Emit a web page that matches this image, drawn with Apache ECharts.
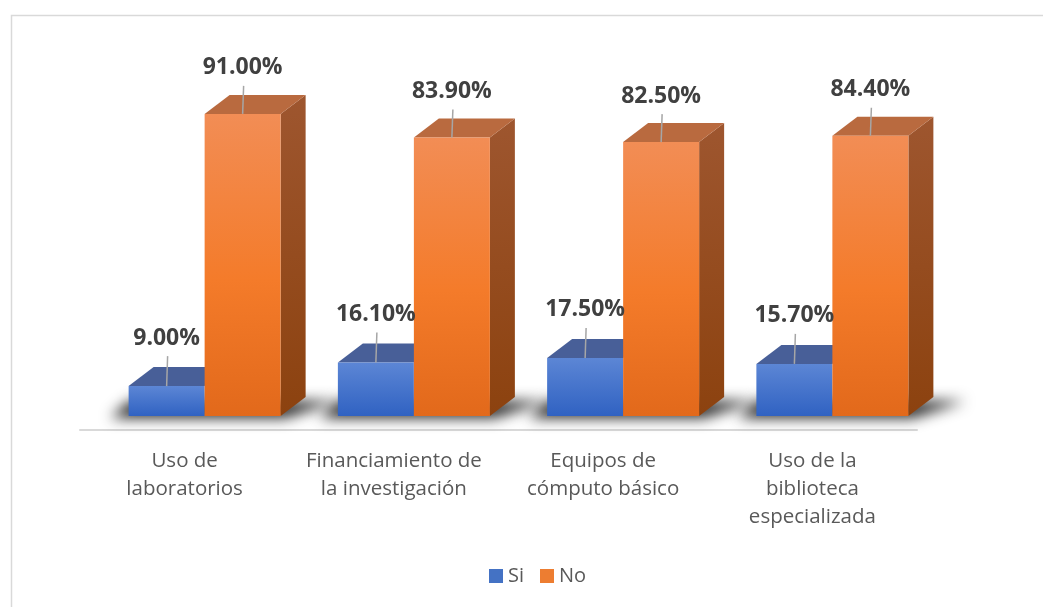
<!DOCTYPE html>
<html>
<head>
<meta charset="utf-8">
<script src="https://cdn.jsdelivr.net/npm/echarts@6/dist/echarts.min.js"></script>
<style>
  html, body { margin: 0; padding: 0; background: #fff; }
  #chart { width: 1043px; height: 607px; }
</style>
</head>
<body>
<div id="chart"></div>
<script>
const categories = ['Uso de\nlaboratorios', 'Financiamiento de\nla investigación', 'Equipos de\ncómputo básico', 'Uso de la\nbiblioteca\nespecializada']
const siData = [9.0, 16.1, 17.5, 15.7]
const noData = [91.0, 83.9, 82.5, 84.4]

// fake 3d: depth offset of the boxes
const DX = 25
const DY = -19
const BAR_W = 76
const SHIFT = 20

const lin = (c0, c1) => ({
  type: 'linear', x: 0, y: 0, x2: 0, y2: 1,
  colorStops: [{ offset: 0, color: c0 }, { offset: 1, color: c1 }]
})

const labelParts = (cx, top, val, gap) => [
  {
    type: 'line', z2: 20,
    shape: { x1: cx + 1, y1: top - gap + 18, x2: cx, y2: top },
    style: { stroke: '#a6a6a6', lineWidth: 1.5 }
  },
  {
    type: 'text', z2: 21,
    style: {
      text: val.toFixed(2) + '%', x: cx, y: top - gap,
      align: 'center', verticalAlign: 'middle',
      font: 'bold 23px "Open Sans", sans-serif', fill: '#404040'
    }
  }
]

const renderBox = (isNo) => (params, api) => {
  const idx = api.value(0)
  const val = api.value(1)
  const top = api.coord([idx, val])
  const base = api.coord([idx, 0])
  const center = top[0] + SHIFT
  const x0 = isNo ? center : center - BAR_W
  const x1 = x0 + BAR_W
  const y0 = base[1]
  const y1 = top[1]
  const children = []
  if (!isNo) {
    // floor shadow under the pair, only the blurred shadow is shown
    const off = 3000
    const l = center - BAR_W
    const r = center + BAR_W
    children.push({
      type: 'polygon', z2: 0,
      shape: { points: [[l - 18 - off, y0 + 2], [r + 4 - off, y0 + 2], [r + DX + 32 - off, y0 + DY + 4], [l + DX - 24 - off, y0 + DY + 4]] },
      style: { fill: '#000', shadowColor: 'rgba(0,0,0,0.85)', shadowBlur: 14, shadowOffsetX: off, shadowOffsetY: 0 }
    })
  }
  if (isNo) {
    children.push({
      type: 'polygon', z2: 5,
      shape: { points: [[x1, y0], [x1 + DX, y0 + DY], [x1 + DX, y1 + DY], [x1, y1]] },
      style: { fill: lin('#9e562f', '#8c420f') }
    })
  }
  children.push({
    type: 'polygon', z2: 5,
    shape: { points: [[x0, y1], [x1, y1], [x1 + DX, y1 + DY], [x0 + DX, y1 + DY]] },
    style: { fill: isNo ? '#b96a3f' : '#485f98' }
  })
  children.push({
    type: 'rect', z2: 6,
    shape: { x: x0, y: y1, width: BAR_W, height: y0 - y1 },
    style: { fill: isNo ? { type: 'linear', x: 0, y: 0, x2: 0, y2: 1, colorStops: [{ offset: 0, color: '#f28d55' }, { offset: 0.55, color: '#f47b2a' }, { offset: 1, color: '#e2691b' }] } : lin('#5c86d5', '#3062c2') }
  })
  return { type: 'group', children: children.concat(labelParts(x0 + BAR_W / 2, y1, val, isNo ? 46 : 48)) }
}

const chart = echarts.init(document.getElementById('chart'), null, { renderer: 'canvas' })
chart.setOption({
  backgroundColor: '#fff',
  animation: false,
  graphic: [{
    type: 'rect', left: 9, top: 13, z: -10, silent: true,
    shape: { width: 1100, height: 700 },
    style: { fill: 'none', stroke: '#d9d9d9', lineWidth: 1.5 }
  }],
  legend: {
    left: 489, top: 566, padding: 0,
    itemWidth: 14, itemHeight: 14, itemGap: 16, icon: 'rect',
    textStyle: { fontFamily: 'Open Sans', fontSize: 20, color: '#595959' },
    data: ['Si', 'No']
  },
  grid: { left: 80, right: 126, top: 84, bottom: 191 },
  xAxis: {
    type: 'category',
    data: categories,
    offset: 14,
    axisLine: { onZero: false, lineStyle: { color: '#d9d9d9', width: 2 } },
    axisTick: { show: false },
    axisLabel: { margin: 17, fontFamily: 'Open Sans', fontSize: 20.5, lineHeight: 28, color: '#595959', interval: 0 }
  },
  yAxis: { type: 'value', min: 0, max: 100, show: false, splitLine: { show: false } },
  series: [
    {
      name: 'Si', type: 'custom', itemStyle: { color: '#4472c4' },
      data: siData.map((v, i) => [i, v]),
      encode: { x: 0, y: 1 },
      renderItem: renderBox(false)
    },
    {
      name: 'No', type: 'custom', itemStyle: { color: '#ed7d31' },
      data: noData.map((v, i) => [i, v]),
      encode: { x: 0, y: 1 },
      renderItem: renderBox(true)
    }
  ]
})
</script>
</body>
</html>
